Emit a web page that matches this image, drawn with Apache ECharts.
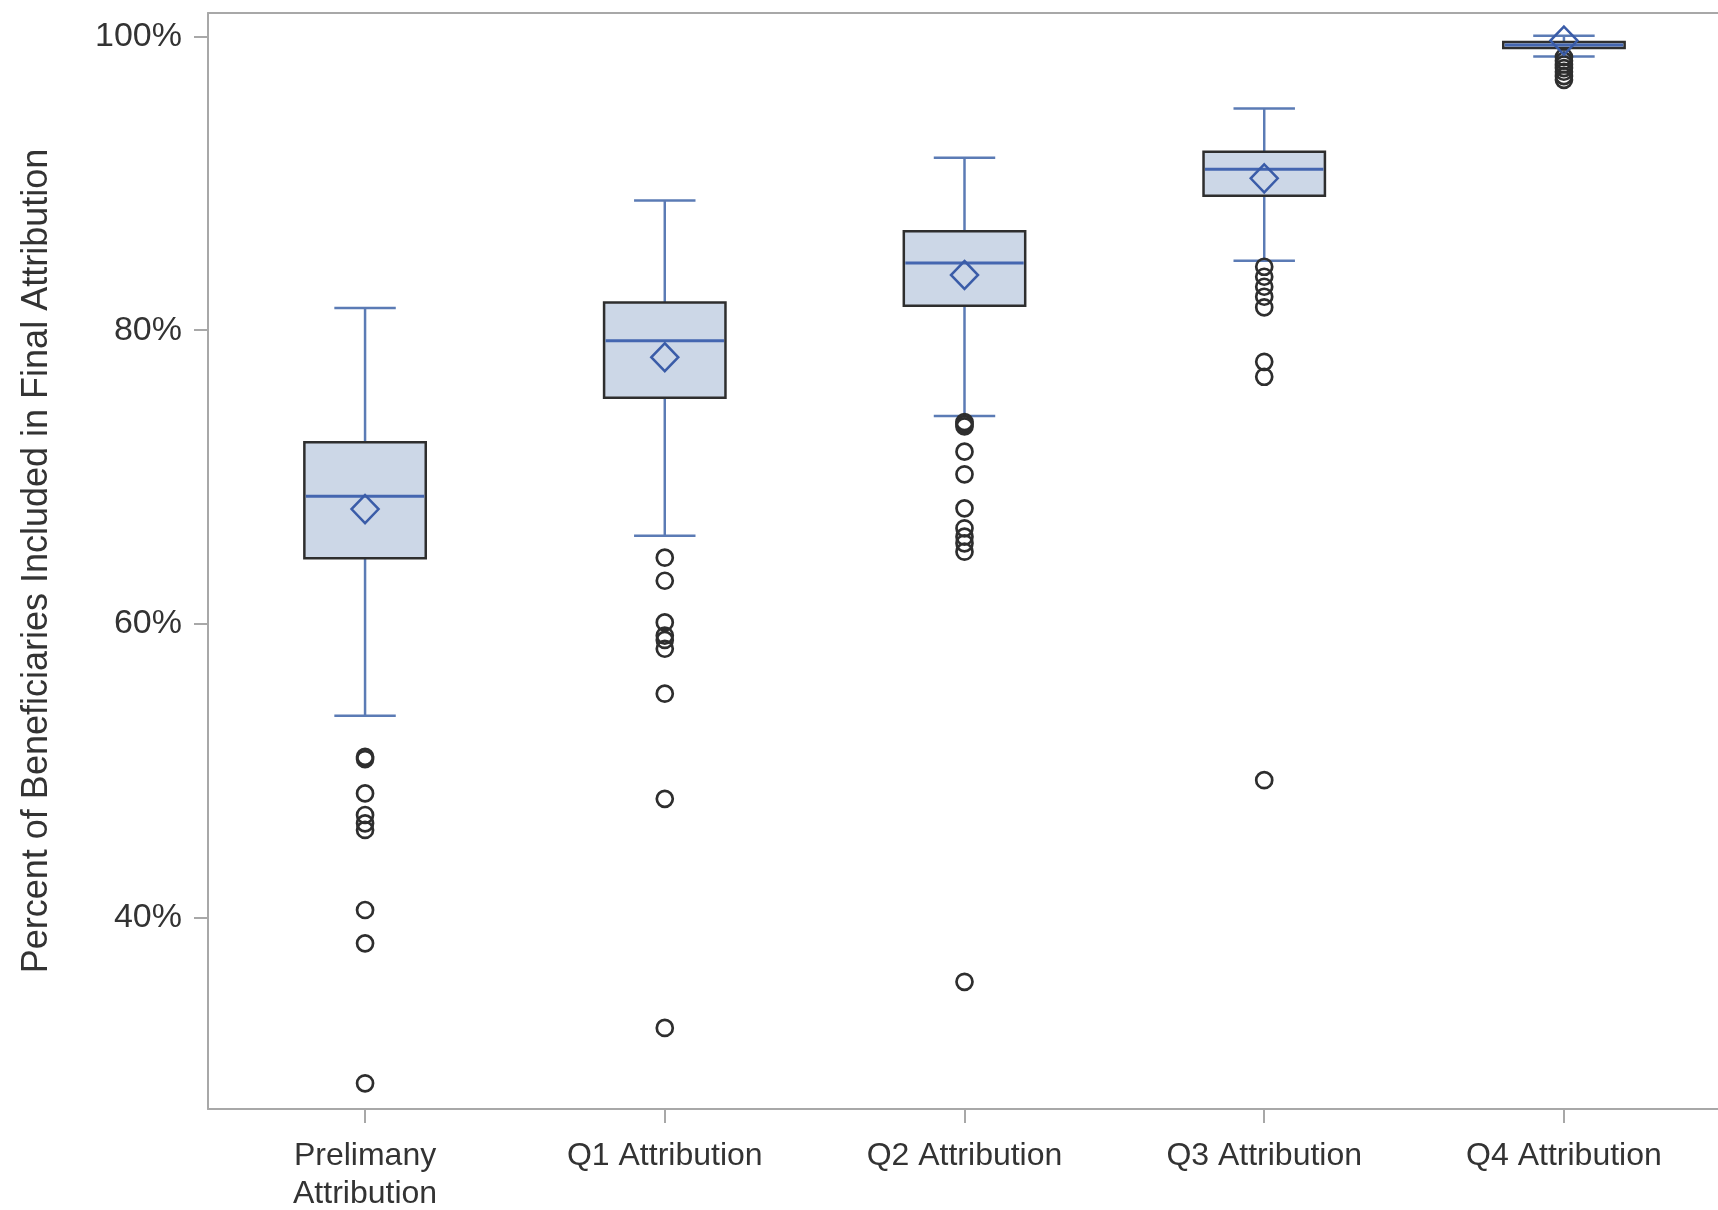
<!DOCTYPE html>
<html>
<head>
<meta charset="utf-8">
<script src="https://cdn.jsdelivr.net/npm/echarts@6/dist/echarts.min.js"></script>
<style>
html,body{margin:0;padding:0;background:#fff;}
#chart{width:1718px;height:1210px;}
</style>
</head>
<body>
<div id="chart"></div>
<script>
const categories = ['Prelimany\nAttribution', 'Q1 Attribution', 'Q2 Attribution', 'Q3 Attribution', 'Q4 Attribution'];
const whiskerLow  = [53.75, 66.0, 74.16, 84.73, 98.63];
const quartile1   = [64.47, 75.40, 81.67, 89.16, 99.22];
const medians     = [68.70, 79.28, 84.58, 90.96, 99.42];
const quartile3   = [72.37, 81.89, 86.74, 92.16, 99.62];
const whiskerHigh = [81.52, 88.83, 91.74, 95.10, 100.05];
const means       = [67.82, 78.16, 83.76, 90.34, 99.72];
const outliersPrelim = [50.95, 50.8, 48.46, 46.99, 46.42, 45.97, 40.52, 38.25, 28.72];
const outliersQ1 = [64.51, 62.94, 60.10, 59.21, 58.91, 58.31, 55.25, 48.09, 32.49];
const outliersQ2 = [73.75, 73.6, 73.45, 71.73, 70.19, 67.87, 66.51, 65.94, 65.49, 64.92, 35.63];
const outliersQ3 = [84.32, 83.64, 82.96, 82.28, 81.56, 77.85, 76.83, 49.36];
const outliersQ4 = [98.6, 98.35, 98.1, 97.85, 97.6, 97.3, 97.05];
const yTickValues = [40, 60, 80, 100];

const outlierGroups = [outliersPrelim, outliersQ1, outliersQ2, outliersQ3, outliersQ4];
const boxData = categories.map((c, i) => [i, whiskerLow[i], quartile1[i], medians[i], quartile3[i], whiskerHigh[i]]);
const meanData = means.map((m, i) => [i, m]);
const outlierData = [];
outlierGroups.forEach((arr, i) => arr.forEach(v => outlierData.push([i, v])));

const FONT = '"Liberation Sans", Arial, sans-serif';
const WHISKER = '#5b7bb5';
const MEDIAN = '#4466b0';
const BORDER = '#2e2e2e';
const FILL = '#ccd7e7';
const AXIS = '#a8a8a8';

function renderBox(params, api) {
  const x = api.value(0);
  const pWL = api.coord([x, api.value(1)]);
  const pQ1 = api.coord([x, api.value(2)]);
  const pMed = api.coord([x, api.value(3)]);
  const pQ3 = api.coord([x, api.value(4)]);
  const pWH = api.coord([x, api.value(5)]);
  const band = api.size([1, 0])[0];
  const bw = band * 0.405;
  const cw = band * 0.205;
  const cx = pMed[0];
  const wStyle = {stroke: WHISKER, lineWidth: 2.5};
  return {
    type: 'group',
    children: [
      {type: 'line', shape: {x1: cx, y1: pWH[1], x2: cx, y2: pQ3[1]}, style: wStyle},
      {type: 'line', shape: {x1: cx, y1: pQ1[1], x2: cx, y2: pWL[1]}, style: wStyle},
      {type: 'line', shape: {x1: cx - cw / 2, y1: pWH[1], x2: cx + cw / 2, y2: pWH[1]}, style: wStyle},
      {type: 'line', shape: {x1: cx - cw / 2, y1: pWL[1], x2: cx + cw / 2, y2: pWL[1]}, style: wStyle},
      {type: 'rect', shape: {x: cx - bw / 2, y: pQ3[1], width: bw, height: pQ1[1] - pQ3[1]},
        style: {fill: FILL, stroke: BORDER, lineWidth: 2.5}},
      {type: 'line', shape: {x1: cx - bw / 2 + 1.5, y1: pMed[1], x2: cx + bw / 2 - 1.5, y2: pMed[1]},
        style: {stroke: MEDIAN, lineWidth: 3}}
    ]
  };
}

const chart = echarts.init(document.getElementById('chart'), null, {renderer: 'canvas'});
chart.setOption({
  backgroundColor: '#ffffff',
  animation: false,
  grid: {left: 208, top: 13, right: 0, bottom: 101, containLabel: false, outerBoundsMode: 'none'},
  xAxis: [{
    type: 'value', min: -0.524, max: 4.514,
    axisLine: {show: true, onZero: false, lineStyle: {color: AXIS, width: 2}},
    axisTick: {show: true, customValues: [0, 1, 2, 3, 4], length: 14, lineStyle: {color: AXIS, width: 2}},
    axisLabel: {
      show: true, customValues: [0, 1, 2, 3, 4],
      formatter: v => categories[Math.round(v)],
      margin: 28, fontSize: 32, lineHeight: 38, color: '#333', fontFamily: FONT
    },
    splitLine: {show: false}
  }, {
    type: 'value', position: 'top', min: -0.524, max: 4.514,
    axisLine: {show: true, onZero: false, lineStyle: {color: AXIS, width: 2}},
    axisTick: {show: false}, axisLabel: {show: false}, splitLine: {show: false}
  }],
  yAxis: {
    type: 'value', min: 26.97, max: 101.6,
    name: 'Percent of Beneficiaries Included in Final Attribution',
    nameLocation: 'middle', nameGap: 153, nameRotate: 90,
    nameTextStyle: {fontSize: 36, color: '#333', fontFamily: FONT},
    axisLine: {show: true, onZero: false, lineStyle: {color: AXIS, width: 2}},
    axisTick: {show: true, customValues: yTickValues, length: 14, lineStyle: {color: AXIS, width: 2}},
    axisLabel: {
      show: true, customValues: yTickValues,
      formatter: v => v + '%',
      margin: 26, fontSize: 34, color: '#333', fontFamily: FONT
    },
    splitLine: {show: false}
  },
  series: [
    {
      type: 'custom', renderItem: renderBox, data: boxData,
      encode: {x: 0, y: [1, 2, 3, 4, 5]}, z: 2, clip: false
    },
    {
      type: 'scatter', data: outlierData, symbol: 'circle', symbolSize: 16, z: 4,
      itemStyle: {color: 'rgba(0,0,0,0)', borderColor: '#2e2e2e', borderWidth: 2.7, opacity: 1}
    },
    {
      type: 'scatter', data: meanData, symbol: 'diamond', symbolSize: [27, 28], z: 5,
      itemStyle: {color: 'rgba(0,0,0,0)', borderColor: '#3a5ca8', borderWidth: 2.5, opacity: 1}
    }
  ]
});
</script>
</body>
</html>
